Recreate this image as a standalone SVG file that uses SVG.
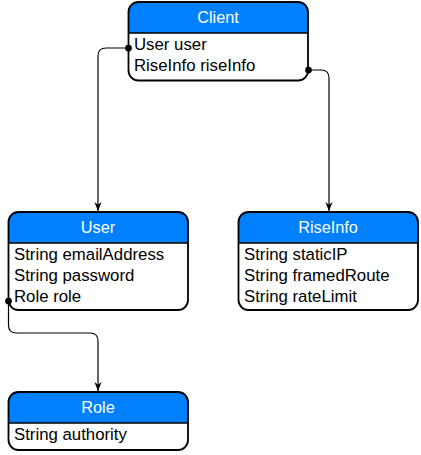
<svg xmlns="http://www.w3.org/2000/svg" width="421" height="455" viewBox="0 0 421 455">
<defs>
<style>
.box{fill:none;stroke:#000;stroke-width:1.8}
.hdr{fill:#0080ff;stroke:none}
.sep{stroke:#000;stroke-width:1.4}
.title{font-family:"Liberation Sans",Arial,sans-serif;font-size:16.3px;fill:#fff;text-anchor:middle}
.attr{font-family:"Liberation Sans",Arial,sans-serif;font-size:16.8px;fill:#000}
.conn{fill:none;stroke:#000;stroke-width:1.2}
</style>
<marker id="arr" viewBox="0 0 10 10" refX="10" refY="5" markerWidth="9" markerHeight="9" markerUnits="userSpaceOnUse" orient="auto">
<path d="M0,1 L10,5 L0,9 L3,5 Z" fill="#000"/>
</marker>
<marker id="dot" viewBox="0 0 10 10" refX="5" refY="5" markerWidth="7.5" markerHeight="7.5" markerUnits="userSpaceOnUse">
<circle cx="5" cy="5" r="4.5" fill="#000"/>
</marker>
</defs>
<g id="connectors">
<path class="conn" d="M128.5,48 H106 Q98,48 98,56 V211" marker-start="url(#dot)" marker-end="url(#arr)"/>
<path class="conn" d="M308.5,70 H321 Q329,70 329,78 V211" marker-start="url(#dot)" marker-end="url(#arr)"/>
<path class="conn" d="M8.5,301 V325 Q8.5,333 16.5,333 H90 Q98,333 98,341 V391" marker-start="url(#dot)" marker-end="url(#arr)"/>
</g>
<g id="client">
<path class="hdr" d="M128.5,33 V12 Q128.5,2 138.5,2 H298 Q308,2 308,12 V33 Z"/>
<rect class="box" x="128.5" y="2" width="179.5" height="78.5" rx="10"/>
<line class="sep" x1="128.5" y1="33" x2="308" y2="33"/>
<text class="title" x="218" y="23">Client</text>
<text class="attr" x="134" y="50">User user</text>
<text class="attr" x="134" y="71">RiseInfo riseInfo</text>
</g>
<g id="user">
<path class="hdr" d="M8.5,243 V222 Q8.5,212 18.5,212 H178 Q188,212 188,222 V243 Z"/>
<rect class="box" x="8.5" y="212" width="179.5" height="98" rx="10"/>
<line class="sep" x1="8.5" y1="243" x2="188" y2="243"/>
<text class="title" x="98" y="233">User</text>
<text class="attr" x="14" y="260">String emailAddress</text>
<text class="attr" x="14" y="281">String password</text>
<text class="attr" x="14" y="302">Role role</text>
</g>
<g id="riseinfo">
<path class="hdr" d="M238.5,243 V222 Q238.5,212 248.5,212 H408 Q418,212 418,222 V243 Z"/>
<rect class="box" x="238.5" y="212" width="179.5" height="98" rx="10"/>
<line class="sep" x1="238.5" y1="243" x2="418" y2="243"/>
<text class="title" x="328" y="233">RiseInfo</text>
<text class="attr" x="244" y="260">String staticIP</text>
<text class="attr" x="244" y="281">String framedRoute</text>
<text class="attr" x="244" y="302">String rateLimit</text>
</g>
<g id="role">
<path class="hdr" d="M8.5,423 V402 Q8.5,392 18.5,392 H178 Q188,392 188,402 V423 Z"/>
<rect class="box" x="8.5" y="392" width="179.5" height="58" rx="10"/>
<line class="sep" x1="8.5" y1="423" x2="188" y2="423"/>
<text class="title" x="98" y="413">Role</text>
<text class="attr" x="14" y="440">String authority</text>
</g>
</svg>
